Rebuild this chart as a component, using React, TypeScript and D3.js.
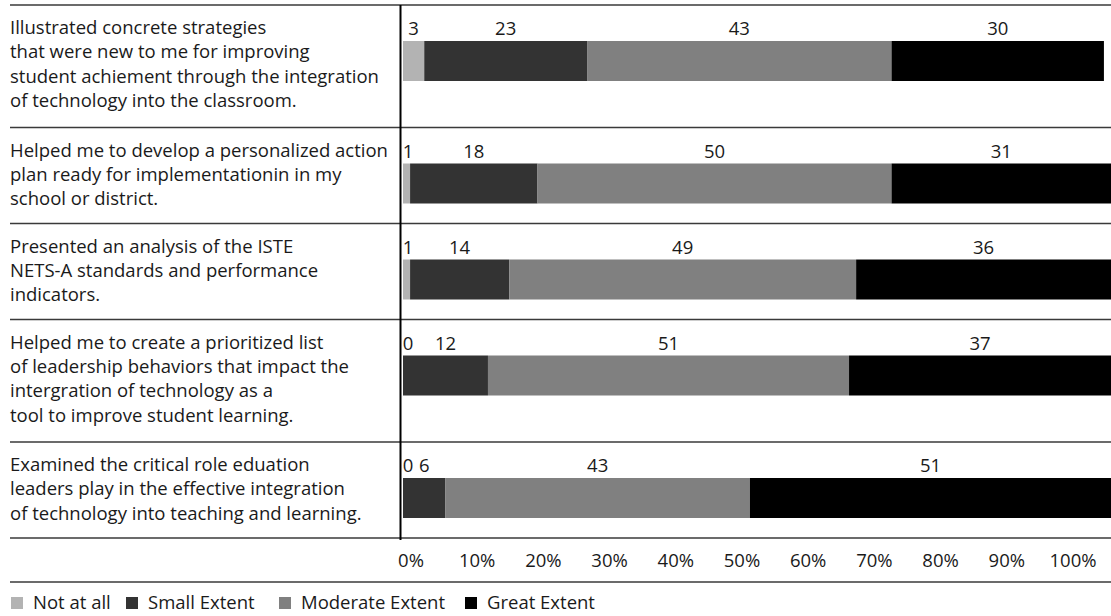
import React from "react";
import * as d3 from "d3";

// Survey statements (already wrapped into display lines)
const categories: string[][] = [
  [
    "Illustrated concrete strategies",
    "that were new to me for improving",
    "student achiement through the integration",
    "of technology into the classroom.",
  ],
  [
    "Helped me to develop a personalized action",
    "plan ready for implementationin in my",
    "school or district.",
  ],
  [
    "Presented an analysis of the ISTE",
    "NETS-A standards and performance",
    "indicators.",
  ],
  [
    "Helped me to create a prioritized list",
    "of leadership behaviors that impact the",
    "intergration of technology as a",
    "tool to improve student learning.",
  ],
  [
    "Examined the critical role eduation",
    "leaders play in the effective integration",
    "of technology into teaching and learning.",
  ],
];

const seriesNames = ["Not at all", "Small Extent", "Moderate Extent", "Great Extent"];
const notAtAll = [3, 1, 1, 0, 0];
const smallExtent = [23, 18, 14, 12, 6];
const moderateExtent = [43, 50, 49, 51, 43];
const greatExtent = [30, 31, 36, 37, 51];
const tickValues = [0, 10, 20, 30, 40, 50, 60, 70, 80, 90, 100];

const seriesColors = ["#b3b3b3", "#333333", "#808080", "#000000"];

const W = 1111;
const H = 616;
const FONT = "'Open Sans', 'DejaVu Sans', sans-serif";
const FS = 18.5;
const TEXT = "#1a1a1a";
const LINE_STEP = 24.4;

export default function App() {
  const series = [notAtAll, smallExtent, moderateExtent, greatExtent];

  // Row geometry: each row grows with the number of wrapped label lines
  const top = 5;
  const rowHeights = categories.map((c) => c.length * 26.5 + 16.5);
  const rowTops: number[] = [];
  let acc = top;
  rowHeights.forEach((h) => {
    rowTops.push(acc);
    acc += h;
  });
  const plotBottom = acc;

  const axisX = 400.5;
  const x = d3.scaleLinear().domain([0, 100]).range([403, W]);
  const tickX = d3.scaleLinear().domain([0, 100]).range([411, 1073]);

  const rows = categories.map((lines, i) => {
    const values = series.map((s) => s[i]);
    const cum = d3.cumsum(values);
    const segs = values.map((v, k) => ({ v, k, start: cum[k] - v, end: cum[k] }));
    return { lines, segs, top: rowTops[i] };
  });

  const legendX = [33, 148, 301, 487];
  const lineColor = "#3a3a3a";

  return (
    <svg
      width={W}
      height={H}
      style={{ position: "absolute", left: 0, top: 0, background: "#fff" }}
      fontFamily={FONT}
      fontSize={FS}
    >
      <rect width={W} height={H} fill="#fff" />

      {/* row separators */}
      {[...rowTops, plotBottom].map((y, i) => (
        <line key={"h" + i} x1={10} x2={W} y1={y} y2={y} stroke={lineColor} strokeWidth={1.3} />
      ))}
      <line x1={10} x2={W} y1={582} y2={582} stroke={lineColor} strokeWidth={1.3} />

      {rows.map((r, i) => (
        <g key={"r" + i}>
          {r.lines.map((ln, j) => (
            <text key={"c" + j} x={10} y={r.top + 29 + j * LINE_STEP} fill={TEXT}>
              {ln}
            </text>
          ))}
          {r.segs.map((s) => (
            <rect
              key={"b" + s.k}
              x={x(s.start)}
              y={r.top + 36}
              width={x(s.end) - x(s.start)}
              height={40}
              fill={seriesColors[s.k]}
            />
          ))}
          {r.segs.map((s) => (
            <text
              key={"t" + s.k}
              x={Math.max((x(s.start) + x(s.end)) / 2, 408)}
              y={r.top + 30}
              textAnchor="middle"
              fill={TEXT}
            >
              {s.v}
            </text>
          ))}
        </g>
      ))}

      {/* vertical category axis */}
      <line x1={axisX} x2={axisX} y1={top} y2={plotBottom + 2} stroke="#000" strokeWidth={2} />

      {/* percentage ticks */}
      {tickValues.map((t) => (
        <text key={"x" + t} x={tickX(t)} y={567} textAnchor="middle" fill={TEXT}>
          {t + "%"}
        </text>
      ))}

      {/* legend */}
      {seriesNames.map((n, k) => (
        <g key={"l" + k}>
          <rect x={legendX[k] - 22} y={597} width={12} height={12} fill={seriesColors[k]} />
          <text x={legendX[k]} y={609} fill={TEXT}>
            {n}
          </text>
        </g>
      ))}
    </svg>
  );
}
